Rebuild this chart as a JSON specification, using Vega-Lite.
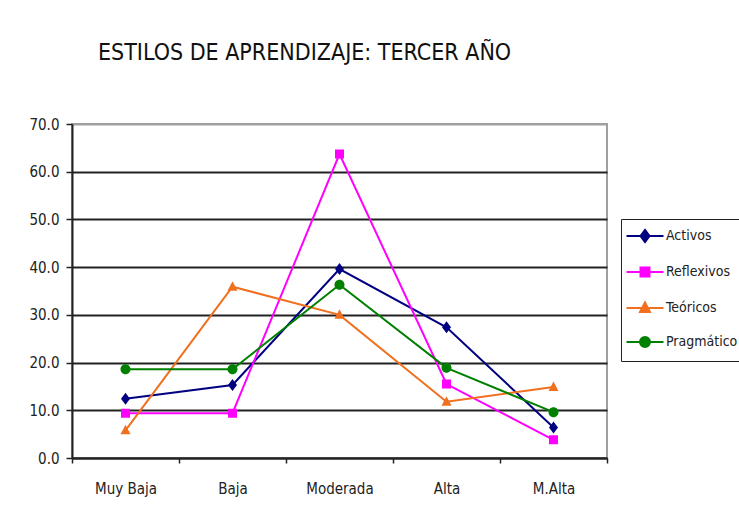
{
  "$schema": "https://vega.github.io/schema/vega-lite/v6.json",
  "width": 535,
  "height": 334,
  "autosize": {"type": "none"},
  "padding": {"left": 72, "top": 124, "right": 132, "bottom": 55},
  "background": "white",
  "title": {
    "text": "ESTILOS DE APRENDIZAJE:  TERCER AÑO",
    "anchor": "start",
    "frame": "group",
    "dx": 26,
    "offset": 52,
    "font": "DejaVu Sans Condensed, Liberation Sans, sans-serif",
    "fontSize": 23,
    "fontWeight": "normal",
    "color": "#111"
  },
  "data": {
    "values": [
      {"nivel": "Muy Baja", "estilo": "Activos", "valor": 12.4},
      {"nivel": "Baja", "estilo": "Activos", "valor": 15.3},
      {"nivel": "Moderada", "estilo": "Activos", "valor": 39.6},
      {"nivel": "Alta", "estilo": "Activos", "valor": 27.4},
      {"nivel": "M.Alta", "estilo": "Activos", "valor": 6.4},
      {"nivel": "Muy Baja", "estilo": "Reflexivos", "valor": 9.4},
      {"nivel": "Baja", "estilo": "Reflexivos", "valor": 9.4},
      {"nivel": "Moderada", "estilo": "Reflexivos", "valor": 63.7},
      {"nivel": "Alta", "estilo": "Reflexivos", "valor": 15.5},
      {"nivel": "M.Alta", "estilo": "Reflexivos", "valor": 3.8},
      {"nivel": "Muy Baja", "estilo": "Teóricos", "valor": 5.8},
      {"nivel": "Baja", "estilo": "Teóricos", "valor": 35.9},
      {"nivel": "Moderada", "estilo": "Teóricos", "valor": 30.0},
      {"nivel": "Alta", "estilo": "Teóricos", "valor": 11.8},
      {"nivel": "M.Alta", "estilo": "Teóricos", "valor": 14.9},
      {"nivel": "Muy Baja", "estilo": "Pragmático", "valor": 18.6},
      {"nivel": "Baja", "estilo": "Pragmático", "valor": 18.6},
      {"nivel": "Moderada", "estilo": "Pragmático", "valor": 36.3},
      {"nivel": "Alta", "estilo": "Pragmático", "valor": 18.9},
      {"nivel": "M.Alta", "estilo": "Pragmático", "valor": 9.6}
    ]
  },
  "encoding": {
    "x": {
      "field": "nivel",
      "type": "nominal",
      "sort": ["Muy Baja", "Baja", "Moderada", "Alta", "M.Alta"],
      "scale": {"type": "band", "paddingInner": 0, "paddingOuter": 0},
      "bandPosition": 0.5,
      "axis": {
        "title": null,
        "labelAngle": 0,
        "tickBand": "extent",
        "grid": false,
        "domainColor": "#222",
        "domainWidth": 2,
        "tickColor": "#222",
        "tickWidth": 1.5,
        "tickSize": 5,
        "labelPadding": 18,
        "labelFont": "DejaVu Sans Condensed, Liberation Sans, sans-serif",
        "labelFontSize": 15,
        "labelColor": "#222"
      }
    },
    "y": {
      "field": "valor",
      "type": "quantitative",
      "scale": {"domain": [0, 70], "nice": false},
      "axis": {
        "title": null,
        "values": [0, 10, 20, 30, 40, 50, 60, 70],
        "format": ".1f",
        "grid": true,
        "gridColor": {"condition": {"test": "datum.value == 70", "value": "#a0a0a0"}, "value": "#222"},
        "gridWidth": 2,
        "domainColor": "#222",
        "domainWidth": 2,
        "tickColor": "#222",
        "tickWidth": 1.5,
        "tickSize": 6,
        "labelPadding": 7,
        "labelFont": "DejaVu Sans Condensed, Liberation Sans, sans-serif",
        "labelFontSize": 15,
        "labelColor": "#222"
      }
    },
    "color": {
      "field": "estilo",
      "type": "nominal",
      "sort": ["Activos", "Reflexivos", "Teóricos", "Pragmático"],
      "scale": {
        "domain": ["Activos", "Reflexivos", "Teóricos", "Pragmático"],
        "range": ["#000080", "#ff00ff", "#f07020", "#008000"]
      },
      "legend": {
        "title": null,
        "orient": "none",
        "legendX": 549,
        "legendY": 95,
        "strokeColor": "#222",
        "padding": 10,
        "rowPadding": 17,
        "symbolSize": 100,
        "symbolOffset": 7,
        "symbolStrokeWidth": 2,
        "labelFont": "DejaVu Sans Condensed, Liberation Sans, sans-serif",
        "labelFontSize": 14,
        "labelColor": "#222",
        "labelOffset": 14,
        "encode": {
          "symbols": {
            "update": {
              "stroke": {"scale": "color", "field": "value"},
              "strokeWidth": {"value": 2}
            }
          }
        }
      }
    }
  },
  "layer": [
    {
      "mark": {"type": "line", "strokeWidth": 2}
    },
    {
      "mark": {"type": "point", "filled": true, "opacity": 1, "size": 100},
      "encoding": {
        "shape": {
          "field": "estilo",
          "type": "nominal",
          "sort": ["Activos", "Reflexivos", "Teóricos", "Pragmático"],
          "scale": {
            "domain": ["Activos", "Reflexivos", "Teóricos", "Pragmático"],
            "range": [
              "M-3.7,0L3.7,0M-0.9,0L0,-1.2L0.9,0L0,1.2Z",
              "M-3.7,0L3.7,0M-0.9,-0.9L0.9,-0.9L0.9,0.9L-0.9,0.9Z",
              "M-3.7,0L3.7,0M0,-1.1L1,0.8L-1,0.8Z",
              "M-3.7,0L3.7,0M-1,0A1,1 0 1,0 1,0A1,1 0 1,0 -1,0Z"
            ]
          }
        }
      }
    }
  ],
  "config": {
    "view": {"stroke": "#a0a0a0", "strokeWidth": 2}
  }
}
